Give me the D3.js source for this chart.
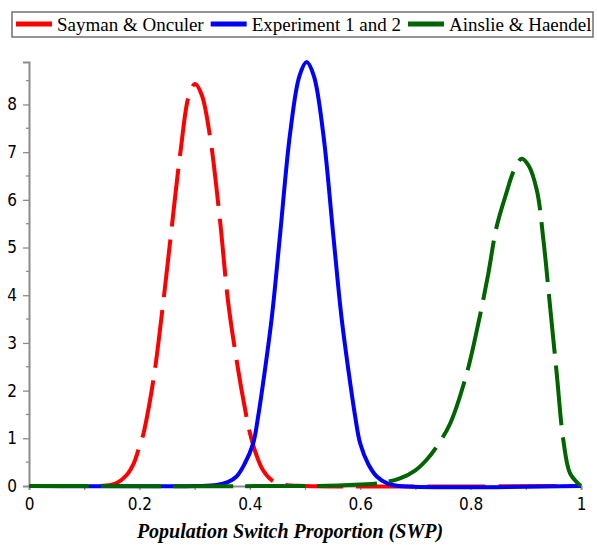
<!DOCTYPE html>
<html>
<head>
<meta charset="utf-8">
<script src="https://cdn.jsdelivr.net/npm/d3@7"></script>
<style>
  body { margin: 0; background: #fff; }
  svg { display: block; }
</style>
</head>
<body>
<svg id="chart" width="597" height="545"></svg>
<script>
// values
var seriesNames = ["Sayman & Onculer", "Experiment 1 and 2", "Ainslie & Haendel"];
var seriesColors = ["#ff0000", "#0000ff", "#006400"];

var saymanX = [0, 0.10, 0.14, 0.16, 0.177, 0.19, 0.198, 0.207, 0.217, 0.228, 0.243, 0.258, 0.274, 0.29, 0.301, 0.313, 0.328, 0.346, 0.361, 0.379, 0.39, 0.400, 0.412, 0.424, 0.44, 0.46, 0.5, 1];
var saymanY = [0, 0, 0.01, 0.07, 0.23, 0.48, 0.75, 1.08, 1.65, 2.43, 3.83, 5.36, 6.97, 8.2, 8.43, 8.2, 7.32, 5.57, 3.83, 2.43, 1.7, 1.12, 0.65, 0.33, 0.12, 0.03, 0, 0];

var experX = [0, 0.30, 0.34, 0.36, 0.376, 0.39, 0.406, 0.415, 0.424, 0.440, 0.455, 0.473, 0.49, 0.503, 0.516, 0.533, 0.551, 0.566, 0.582, 0.591, 0.600, 0.615, 0.630, 0.65, 0.67, 1];
var experY = [0, 0, 0.02, 0.08, 0.2, 0.45, 0.89, 1.45, 2.15, 3.55, 5.29, 7.39, 8.6, 8.89, 8.6, 7.39, 5.29, 3.55, 2.15, 1.45, 0.89, 0.45, 0.2, 0.05, 0, 0];

var ainslieX = [0, 0.50, 0.56, 0.60, 0.636, 0.672, 0.70, 0.720, 0.74, 0.763, 0.793, 0.814, 0.832, 0.847, 0.865, 0.878, 0.8925, 0.905, 0.920, 0.932, 0.944, 0.956, 0.968, 0.980, 0.995, 1];
var ainslieY = [0, 0, 0.01, 0.03, 0.06, 0.16, 0.33, 0.545, 0.85, 1.31, 2.36, 3.41, 4.45, 5.43, 6.15, 6.6, 6.86, 6.72, 6.20, 5.15, 3.76, 2.36, 0.96, 0.27, 0.05, 0];

var xTicks = [0, 0.2, 0.4, 0.6, 0.8, 1];
var xMinor = [0, 0.1, 0.2, 0.3, 0.4, 0.5, 0.6, 0.7, 0.8, 0.9, 1];
var yTicks = [0, 1, 2, 3, 4, 5, 6, 7, 8];
var yMinor = [0.5, 1.5, 2.5, 3.5, 4.5, 5.5, 6.5, 7.5, 8.5];
var yMax = 8.89;
var xTitle = "Population Switch Proportion (SWP)";

var svg = d3.select("#chart");

var x = d3.scaleLinear().domain([0, 1]).range([29, 581]);
var y = d3.scaleLinear().domain([0, yMax]).range([486, 62]);

var tickFont = "'Liberation Sans Narrow', 'DejaVu Sans Condensed', 'Liberation Sans', sans-serif";

// y axis
var yAxis = svg.append("g").attr("transform", "translate(29,0)");
yAxis.call(d3.axisLeft(y).tickValues(yTicks).tickSize(6).tickPadding(6).tickFormat(d3.format("d")));
yAxis.selectAll(".tick").filter(function(d) { return d == 0; }).select("line").remove();
yAxis.append("g").selectAll("line")
    .data(yMinor)
    .enter().append("line")
    .attr("x1", -3).attr("x2", 0)
    .attr("y1", function(d) { return y(d); })
    .attr("y2", function(d) { return y(d); });

// x axis
var xAxis = svg.append("g").attr("transform", "translate(0,486)");
xAxis.call(d3.axisBottom(x).tickValues(xMinor).tickSize(4).tickPadding(8)
    .tickFormat(function(d) { return xTicks.some(function(t) { return Math.abs(t - d) < 1e-9; }) ? d3.format("")(+d.toFixed(1)) : ""; }));

svg.selectAll(".domain").attr("stroke", "#8c8c8c").attr("stroke-width", 2);
svg.selectAll(".tick line").attr("stroke", "#8c8c8c").attr("stroke-width", 1.3);
yAxis.selectAll("line").attr("stroke", "#8c8c8c").attr("stroke-width", 1.3);
svg.selectAll(".tick text")
    .style("font-family", tickFont)
    .style("font-size", "17px")
    .attr("fill", "#000");

// curves
var lineGen = d3.line()
    .x(function(d) { return x(d[0]); })
    .y(function(d) { return y(d[1]); })
    .curve(d3.curveCatmullRom.alpha(0.5));

var series = [
    { xs: saymanX, ys: saymanY, dash: "58,13" },
    { xs: experX, ys: experY, dash: null },
    { xs: ainslieX, ys: ainslieY, dash: "60,12" }
];

series.forEach(function(s, i) {
    var pts = s.xs.map(function(v, j) { return [v, s.ys[j]]; });
    svg.append("path")
        .datum(pts)
        .attr("fill", "none")
        .attr("stroke", seriesColors[i])
        .attr("stroke-width", 4)
        .attr("stroke-dasharray", s.dash)
        .attr("stroke-linejoin", "round")
        .attr("d", lineGen);
});

// axis title
svg.append("text")
    .attr("x", 290)
    .attr("y", 538)
    .attr("text-anchor", "middle")
    .style("font-family", "'Liberation Serif', 'Times New Roman', serif")
    .style("font-style", "italic")
    .style("font-weight", "bold")
    .style("font-size", "20px")
    .attr("fill", "#000")
    .text(xTitle);

// legend
var legend = svg.append("g");
legend.append("rect")
    .attr("x", 12).attr("y", 12)
    .attr("width", 581).attr("height", 25)
    .attr("fill", "#fff")
    .attr("stroke", "#707070")
    .attr("stroke-width", 1.5);

var lx = 16;
seriesNames.forEach(function(name, i) {
    legend.append("line")
        .attr("x1", lx).attr("x2", lx + 36)
        .attr("y1", 24).attr("y2", 24)
        .attr("stroke", seriesColors[i])
        .attr("stroke-width", 5);
    var t = legend.append("text")
        .attr("x", lx + 41)
        .attr("y", 31)
        .style("font-family", "'Liberation Serif', 'Times New Roman', serif")
        .style("font-size", "19px")
        .attr("fill", "#000")
        .text(name);
    lx = lx + 41 + t.node().getComputedTextLength() + 7;
});
</script>
</body>
</html>
